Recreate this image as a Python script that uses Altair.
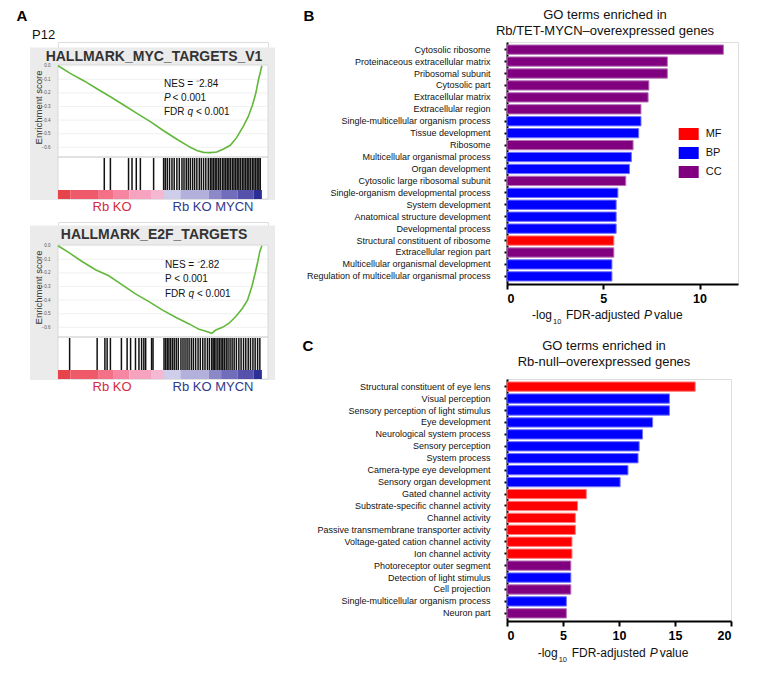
import altair as alt
import pandas as pd

FONT = "Liberation Sans"

# ---------------- Panel A data (GSEA) ----------------
myc_x = [0.0, 0.06, 0.126, 0.191, 0.257, 0.322, 0.387, 0.453, 0.518, 0.583, 0.649, 0.681,
         0.714, 0.747, 0.779, 0.812, 0.845, 0.877, 0.91, 0.933, 0.954, 0.97, 0.983, 0.992, 1.0]
myc_es = [0.0, -0.056, -0.11, -0.169, -0.228, -0.289, -0.35, -0.411, -0.478, -0.541, -0.6, -0.624,
          -0.637, -0.639, -0.634, -0.612, -0.585, -0.527, -0.443, -0.375, -0.289, -0.203, -0.105, -0.05, 0.0]
myc_hits = [0.227, 0.257, 0.346, 0.363, 0.384, 0.404, 0.469, 0.518, 0.526, 0.536, 0.547, 0.559,
            0.570, 0.583, 0.595, 0.608, 0.618, 0.629, 0.639, 0.649, 0.660, 0.670, 0.681, 0.693,
            0.703, 0.714, 0.725, 0.737, 0.747, 0.755, 0.763, 0.771, 0.779, 0.788, 0.796, 0.806,
            0.814, 0.822, 0.830, 0.838, 0.846, 0.855, 0.863, 0.871, 0.879, 0.887, 0.895, 0.904,
            0.912, 0.920, 0.928, 0.936, 0.944, 0.953, 0.961, 0.969, 0.977, 0.985, 0.992]

e2f_x = [0.0, 0.052, 0.118, 0.184, 0.249, 0.315, 0.38, 0.446, 0.511, 0.577, 0.643, 0.692, 0.725,
         0.754, 0.774, 0.807, 0.839, 0.872, 0.905, 0.93, 0.951, 0.967, 0.98, 0.99, 1.0]
e2f_es = [0.0, -0.049, -0.116, -0.177, -0.221, -0.288, -0.354, -0.411, -0.472, -0.526, -0.575,
          -0.615, -0.629, -0.644, -0.62, -0.6, -0.57, -0.521, -0.46, -0.398, -0.3, -0.202, -0.116,
          -0.042, 0.0]
e2f_hits = [0.057, 0.192, 0.230, 0.241, 0.257, 0.311, 0.339, 0.356, 0.380, 0.397, 0.410, 0.421,
            0.430, 0.459, 0.466, 0.520, 0.528, 0.536, 0.544, 0.552, 0.561, 0.570, 0.580, 0.590,
            0.603, 0.613, 0.623, 0.633, 0.643, 0.654, 0.664, 0.675, 0.687, 0.698, 0.710, 0.721,
            0.733, 0.743, 0.754, 0.761, 0.767, 0.775, 0.784, 0.792, 0.800, 0.808, 0.816, 0.825,
            0.834, 0.844, 0.854, 0.864, 0.875, 0.887, 0.898, 0.910, 0.921, 0.933, 0.944, 0.956,
            0.967, 0.979, 0.990]

rank_start = [0.0, 0.06, 0.2, 0.27, 0.35, 0.46, 0.52, 0.6, 0.74, 0.8, 0.88, 0.96]
rank_end = [0.06, 0.2, 0.27, 0.35, 0.46, 0.52, 0.6, 0.74, 0.8, 0.88, 0.96, 1.0]
rank_score = [1.0, 0.85, 0.7, 0.55, 0.35, 0.2, -0.15, -0.3, -0.5, -0.65, -0.8, -1.0]
es_ticks = [0.0, -0.1, -0.2, -0.3, -0.4, -0.5, -0.6]

# ---------------- Panel B data ----------------
b_terms = ["Cytosolic ribosome", "Proteinaceous extracellular matrix", "Pribosomal subunit",
           "Cytosolic part", "Extracellular matrix", "Extracellular region",
           "Single-multicellular organism process", "Tissue development", "Ribosome",
           "Multicellular organismal process", "Organ development",
           "Cytosolic large ribosomal subunit", "Single-organism developmental process",
           "System development", "Anatomical structure development", "Developmental process",
           "Structural constituent of ribosome", "Extracellular region part",
           "Multicellular organismal development",
           "Regulation of multicellular organismal process"]
b_values = [11.24, 8.33, 8.33, 7.37, 7.33, 6.96, 6.96, 6.84, 6.55, 6.46, 6.36, 6.17, 5.76, 5.67,
            5.67, 5.67, 5.55, 5.55, 5.45, 5.45]
b_cats = ["CC", "CC", "CC", "CC", "CC", "CC", "BP", "BP", "CC", "BP", "BP", "CC", "BP", "BP",
          "BP", "BP", "MF", "CC", "BP", "BP"]

# ---------------- Panel C data ----------------
c_terms = ["Structural constituent of eye lens", "Visual perception",
           "Sensory perception of light stimulus", "Eye development",
           "Neurological system process", "Sensory perception", "System process",
           "Camera-type eye development", "Sensory organ development", "Gated channel activity",
           "Substrate-specific channel activity", "Channel activity",
           "Passive transmembrane transporter activity", "Voltage-gated cation channel activity",
           "Ion channel activity", "Photoreceptor outer segment", "Detection of light stimulus",
           "Cell projection", "Single-multicellular organism process", "Neuron part"]
c_values = [16.8, 14.5, 14.5, 13.0, 12.1, 11.8, 11.7, 10.8, 10.1, 7.08, 6.3, 6.1, 6.1, 5.8, 5.8,
            5.7, 5.7, 5.7, 5.3, 5.3]
c_cats = ["MF", "BP", "BP", "BP", "BP", "BP", "BP", "BP", "BP", "MF", "MF", "MF", "MF", "MF",
          "MF", "CC", "BP", "CC", "BP", "CC"]

cat_names = ["MF", "BP", "CC"]
cat_fill = ["#ff0000", "#0000ff", "#800080"]
cat_edge = ["#ff7a7a", "#7070ff", "#b873b8"]

one = pd.DataFrame({"k": [0]})


def txt(text, x, y, size=10, weight="normal", style="normal", align="left", color="#111",
        font=FONT, baseline="middle"):
    return alt.Chart(one).mark_text(
        text=text, fontSize=size, fontWeight=weight, fontStyle=style, align=align,
        baseline=baseline, color=color, font=font
    ).encode(x=alt.value(x), y=alt.value(y))


def gsea(xs, es, hits, title, title_y, nes, nes_x, nes_y, p_italic, extra=None):
    T = 23            # header band (title) inside the panel
    W, H = 210, 134 + T
    xsc = alt.Scale(domain=[0, 1.03], nice=False, zero=False)
    ysc = alt.Scale(domain=[-0.98, 0.1744], nice=False, zero=False)
    yaxis = alt.Axis(values=es_ticks, format=".1f", labelFontSize=4.5, labelColor="#555",
                     ticks=False, domain=False, grid=False, labelPadding=8,
                     title="Enrichment score", titleFontSize=9.5, titleFontWeight="normal",
                     titleColor="#333", titleX=-20, titleY=42 + T, titleAngle=270,
                     titleAlign="center", titleBaseline="middle", zindex=1)
    curve_df = pd.DataFrame({"x": xs, "es": es})
    hits_df = pd.DataFrame({"pos": hits})
    rank_df = pd.DataFrame({"start": rank_start, "end": rank_end, "score": rank_score})
    grid_df = pd.DataFrame({"v": es_ticks})

    frame = alt.Chart(one).mark_rect(fill="#ebebeb").encode(
        x=alt.value(-28), x2=alt.value(W + 7), y=alt.value(title_y - 9.5), y2=alt.value(H + 1))
    inner = alt.Chart(one).mark_rect(fill="white", stroke="#d2d2d2", strokeWidth=0.8).encode(
        x=alt.value(0), x2=alt.value(W), y=alt.value(T), y2=alt.value(H))
    grid = alt.Chart(grid_df).mark_rule(color="#ececec", strokeWidth=0.8).encode(
        y=alt.Y("v:Q", scale=ysc, axis=yaxis), x=alt.value(0), x2=alt.value(W))
    sep = alt.Chart(one).mark_rule(color="#c4c4c4", strokeWidth=1).encode(
        y=alt.value(92 + T), x=alt.value(0), x2=alt.value(W))
    curve = alt.Chart(curve_df).mark_line(color="#62b83a", strokeWidth=1.6).encode(
        x=alt.X("x:Q", scale=xsc, axis=None), y=alt.Y("es:Q", scale=ysc, axis=yaxis))
    hit = alt.Chart(hits_df).mark_rule(color="#111111", strokeWidth=1.5).encode(
        x=alt.X("pos:Q", scale=xsc, axis=None), y=alt.value(93 + T), y2=alt.value(125 + T))
    rank = alt.Chart(rank_df).mark_rect().encode(
        x=alt.X("start:Q", scale=xsc, axis=None), x2="end:Q",
        y=alt.value(125 + T), y2=alt.value(134 + T),
        color=alt.Color("score:Q", legend=None,
                        scale=alt.Scale(domain=[-1, -0.1, 0.1, 1],
                                        range=["#2b2f96", "#d9d8ef", "#f3c6dc", "#e6434b"])))
    layers = [frame, inner, grid, sep, curve, hit, rank,
              txt(title, 96, title_y, size=14, weight="bold", align="center", color="#333"),
              txt(nes, nes_x, nes_y + T, size=10)]
    if p_italic:
        layers.append(txt("P", nes_x, nes_y + T + 14, size=10, style="italic"))
        layers.append(txt("< 0.001", nes_x + 8.5, nes_y + T + 14, size=10))
    else:
        layers.append(txt("P < 0.001", nes_x, nes_y + T + 14, size=10))
    layers.append(txt("FDR", nes_x, nes_y + T + 28.5, size=10))
    layers.append(txt("q", nes_x + 23.5, nes_y + T + 28.5, size=10, style="italic"))
    layers.append(txt("< 0.001", nes_x + 32, nes_y + T + 28.5, size=10))
    layers.append(txt("Rb KO", 54, 142 + T, size=13, align="center", color="#d42a3c"))
    layers.append(txt("Rb KO MYCN", 155, 142 + T, size=13, align="center", color="#2e3a8c"))
    if extra:
        layers.extend(extra)
    return alt.layer(*layers).properties(width=W, height=H)


def go_chart(terms, values, cats, xmax, xticks, W, H, t1, t1y, t2y, tx, letter, lx, ly,
             leg_x, leg_y, leg_pad, xt_x, xt_y):
    df = pd.DataFrame({"term": terms, "value": values, "cat": cats})
    bars = alt.Chart(df).mark_bar(strokeWidth=1).encode(
        y=alt.Y("term:N", sort=terms, title=None,
                scale=alt.Scale(paddingInner=0.22, paddingOuter=0.25),
                axis=alt.Axis(labelFont=FONT, labelFontSize=9, labelColor="#111",
                              tickSize=3, tickWidth=2, tickColor="black", domainWidth=2,
                              domainColor="black", labelPadding=14, labelLimit=400)),
        x=alt.X("value:Q", title=None, scale=alt.Scale(domain=[0, xmax], nice=False),
                axis=alt.Axis(values=xticks, labelFont=FONT, labelFontSize=12.5,
                              labelFontWeight="bold", labelColor="black", tickSize=5,
                              tickWidth=2, tickColor="black", domainWidth=2,
                              domainColor="black", labelPadding=3, grid=False)),
        color=alt.Color("cat:N", scale=alt.Scale(domain=cat_names, range=cat_fill),
                        legend=alt.Legend(title=None, orient="none", legendX=leg_x,
                                          legendY=leg_y, symbolType="M-1,-0.6H1V0.6H-1Z",
                                          symbolSize=400, symbolStrokeWidth=0,
                                          labelFont=FONT, labelFontSize=11,
                                          labelColor="#111", labelOffset=7,
                                          rowPadding=leg_pad, padding=0)),
        stroke=alt.Stroke("cat:N", scale=alt.Scale(domain=cat_names, range=cat_edge),
                          legend=None),
    )
    layers = [bars,
              txt("GO terms enriched in", tx, t1y, size=13, align="center"),
              txt(t1, tx, t2y, size=13, align="center"),
              txt(letter, lx, ly, size=15, weight="bold", align="center", color="black"),
              txt("-log", xt_x, xt_y, size=12),
              txt("10", xt_x + 21, xt_y + 7, size=7.5),
              txt("FDR-adjusted", xt_x + 34, xt_y, size=12),
              txt("P", xt_x + 112, xt_y, size=12, style="italic"),
              txt("value", xt_x + 122, xt_y, size=12)]
    return alt.layer(*layers).properties(width=W, height=H)


a1 = gsea(myc_x, myc_es, myc_hits, "HALLMARK_MYC_TARGETS_V1", 15, "NES = \u207b2.84",
          106, 18.5, True,
          extra=[txt("A", -36, -26, size=15, weight="bold", align="center", color="black"),
                 txt("P12", -26, -7, size=13)])
a2 = gsea(e2f_x, e2f_es, e2f_hits, "HALLMARK_E2F_TARGETS", 13, "NES = \u207b2.82",
          107, 20, False)

b = go_chart(b_terms, b_values, b_cats, 12, [0, 5, 10], 231, 242,
             "Rb/TET-MYCN\u2013overexpressed genes", -27, -11.3, 98, "B", -198, -26.5,
             171.7, 82, 3, 25, 273)
c = go_chart(c_terms, c_values, c_cats, 20, [0, 5, 10, 15, 20], 224, 242,
             "Rb-null\u2013overexpressed genes", -33.5, -17.2, 97, "C", -199, -32.8,
             179, 117, 5, 30.7, 273.5)

colA = alt.vconcat(a1, a2, spacing=23, bounds="flush")
colB = alt.vconcat(b, c, spacing=95, bounds="flush")

chart = alt.hconcat(colA, colB, spacing=26).configure_view(strokeWidth=0).configure(
    font=FONT).properties(padding={"left": 8, "top": 0, "right": 5, "bottom": 5})

chart.save("out.html", embed_options={"renderer": "svg", "actions": False})
